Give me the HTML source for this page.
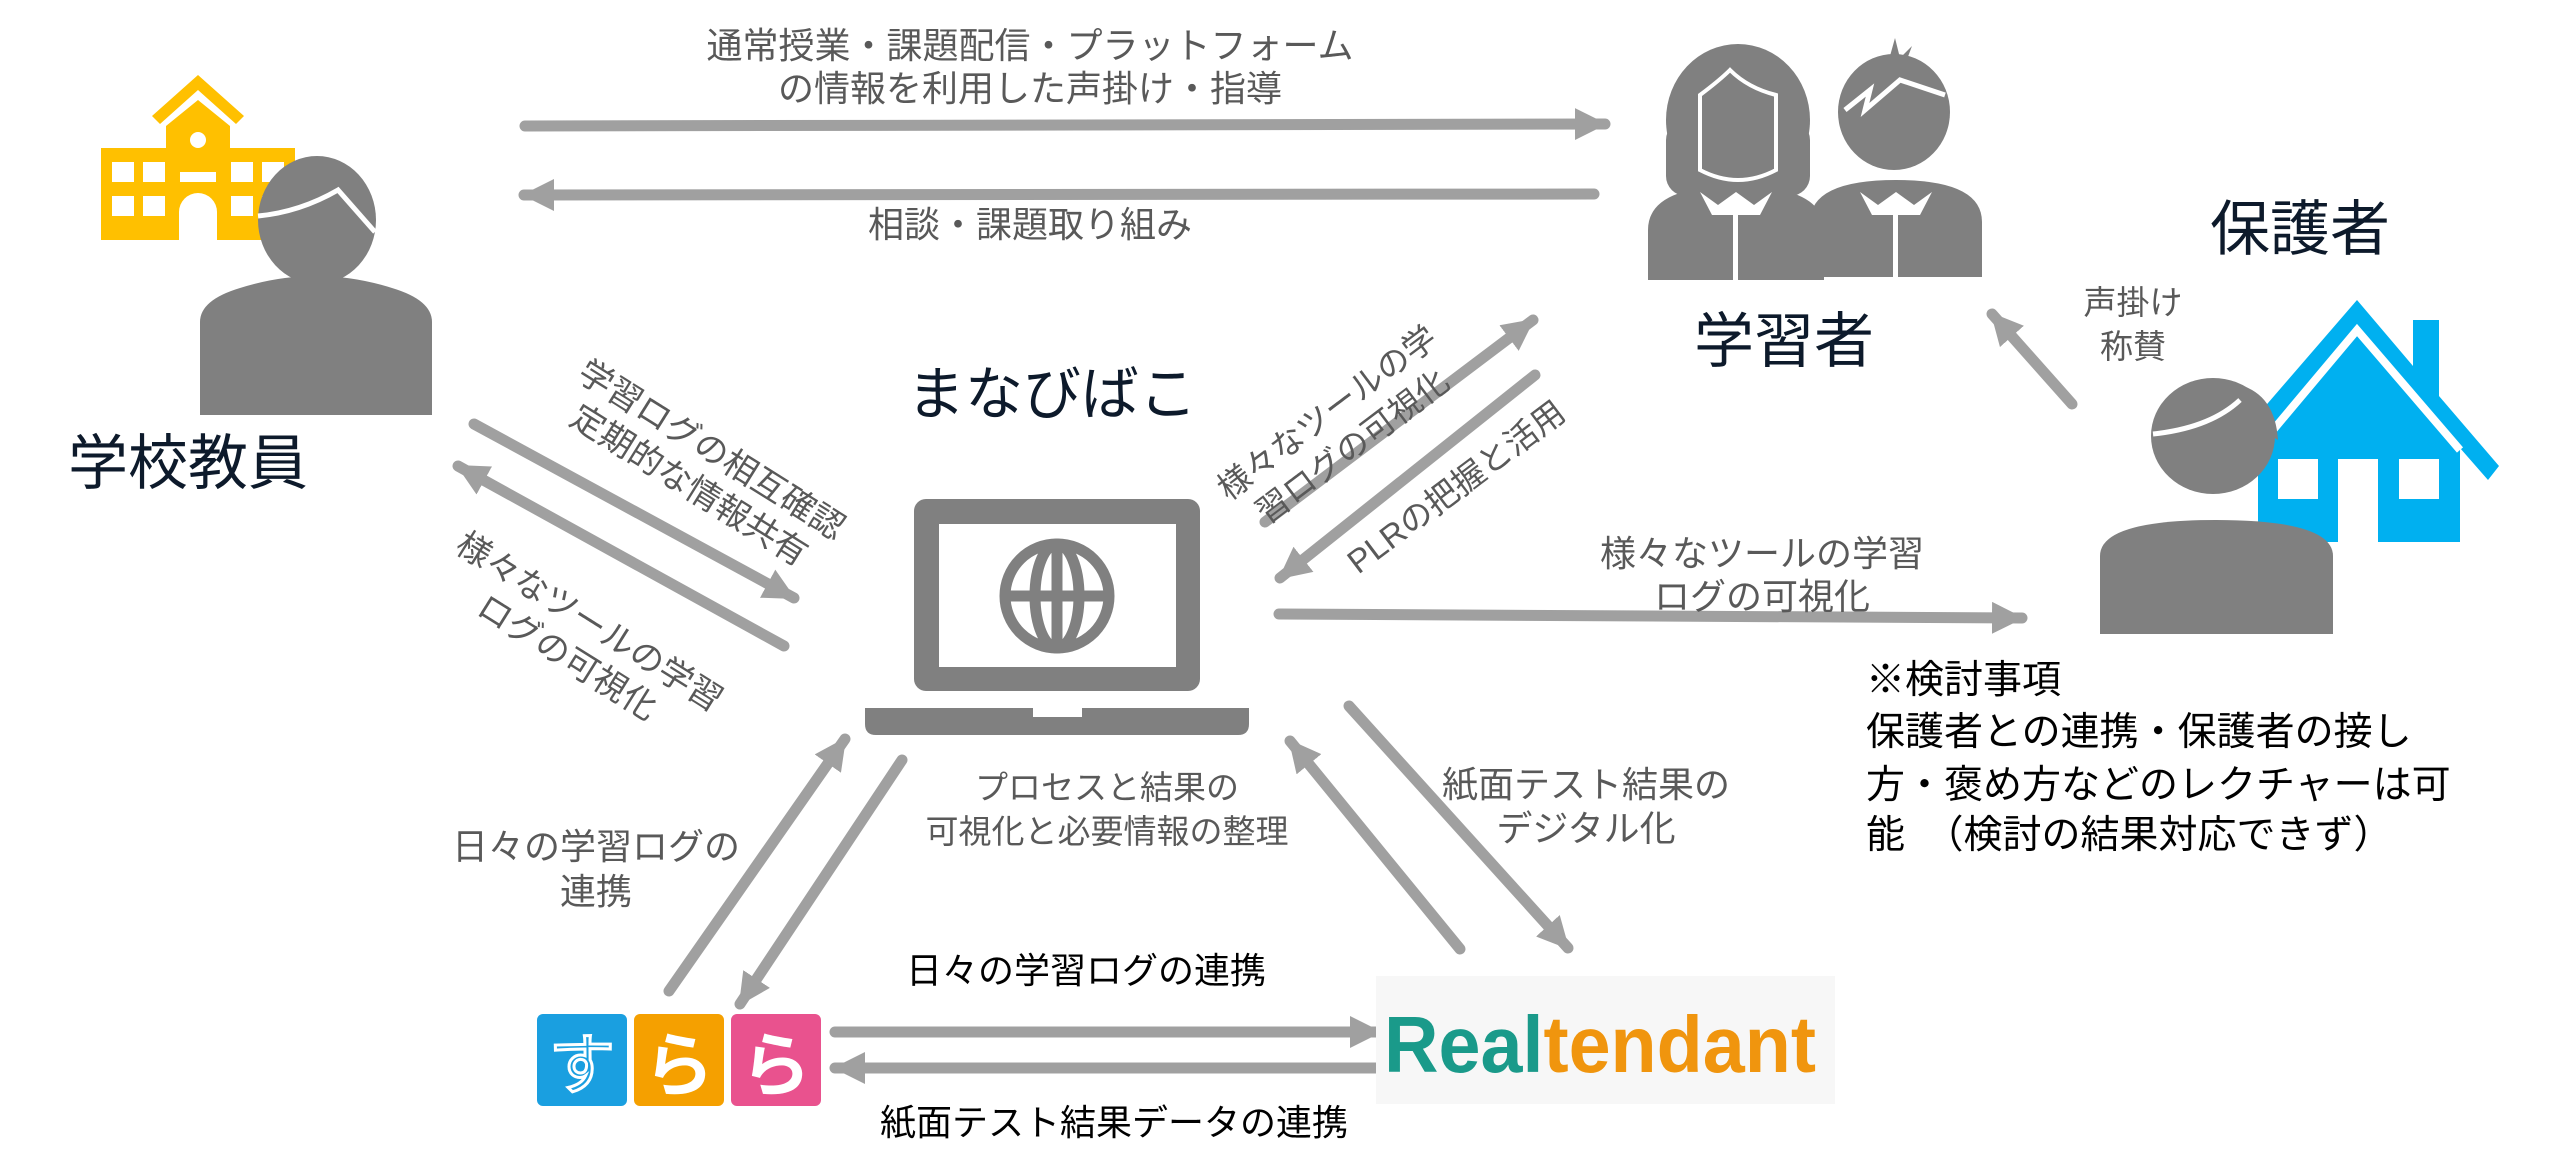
<!DOCTYPE html>
<html><head><meta charset="utf-8"><style>
html,body{margin:0;padding:0;background:#fff;}
svg{display:block;}
text{font-family:"Liberation Sans","Noto Sans CJK JP",sans-serif;}
.g{fill:#595959;font-size:35px;}
.n{fill:#0d1a2b;font-size:60px;}
.k{fill:#000;font-size:36px;}
</style></head><body>
<svg width="2560" height="1161" viewBox="0 0 2560 1161" xmlns="http://www.w3.org/2000/svg">
<defs>
<marker id="ah" markerUnits="userSpaceOnUse" markerWidth="40" markerHeight="40" refX="30" refY="16" orient="auto">
<path d="M0,0 L32,16 L0,32 z" fill="#a0a0a0"/>
</marker>
</defs>
<g stroke="#a0a0a0" stroke-width="11" stroke-linecap="round" fill="none" marker-end="url(#ah)">
<line x1="525" y1="126" x2="1605" y2="124"/>
<line x1="1594" y1="194" x2="524" y2="195"/>
<line x1="474" y1="424" x2="794" y2="598"/>
<line x1="784" y1="646" x2="458" y2="466"/>
<line x1="1265" y1="522" x2="1533" y2="320"/>
<line x1="1535" y1="375" x2="1280" y2="578"/>
<line x1="1279" y1="614" x2="2022" y2="618"/>
<line x1="2072" y1="404" x2="1992" y2="314"/>
<line x1="669" y1="991" x2="845" y2="739"/>
<line x1="902" y1="760" x2="740" y2="1004"/>
<line x1="1349" y1="706" x2="1568" y2="948"/>
<line x1="1460" y1="949" x2="1290" y2="741"/>
<line x1="835" y1="1032" x2="1380" y2="1032"/>
<line x1="1380" y1="1068" x2="835" y2="1068"/>
</g>
<!-- school -->
<g fill="#ffc000">
<path d="M152,116 L198,75 L244,116 L236,124 L198,90 L160,124 z"/>
<path d="M166,148 L166,126 L198,100 L230,126 L230,148 L295,148 L295,240 L101,240 L101,148 z"/>
</g>
<g fill="#fff">
<circle cx="198" cy="140" r="8"/>
<rect x="112" y="162" width="22" height="20"/><rect x="143" y="162" width="22" height="20"/><rect x="231" y="162" width="22" height="20"/><rect x="262" y="162" width="22" height="20"/>
<rect x="112" y="196" width="22" height="20"/><rect x="143" y="196" width="22" height="20"/><rect x="231" y="196" width="22" height="20"/><rect x="262" y="196" width="22" height="20"/>
<rect x="180" y="172" width="36" height="10"/>
<path d="M179,240 L179,212 A19,19 0 0 1 217,212 L217,240 z"/>
</g>
<!-- teacher -->
<g fill="#808080">
<ellipse cx="317" cy="220" rx="59" ry="64"/>
<path d="M200,415 L200,322 Q200,300 240,288 Q316,264 392,288 Q432,300 432,322 L432,415 z"/>
</g>
<path d="M258,216 Q300,212 338,190 L375,232" stroke="#fff" stroke-width="5" fill="none"/>
<text class="n" x="188" y="484" text-anchor="middle">学校教員</text>
<!-- students -->
<g fill="#808080">
<ellipse cx="1738" cy="120" rx="72" ry="76"/>
<rect x="1666" y="120" width="144" height="76" rx="20"/>
<path d="M1648,280 L1648,230 Q1648,186 1736,186 Q1824,186 1824,230 L1824,280 z"/>
<path d="M1810,277 L1810,222 Q1810,180 1896,180 Q1982,180 1982,222 L1982,277 z"/>
<ellipse cx="1894" cy="112" rx="56" ry="58"/>
<path d="M1890,56 L1895,38 L1900,58 L1912,46 L1906,62 z"/>
</g>
<g fill="#fff">
<path d="M1700,95 Q1720,80 1730,70 Q1748,88 1776,95 L1776,170 Q1738,190 1700,170 z" fill="#808080" stroke="#fff" stroke-width="4"/>
<path d="M1700,192 L1718,205 L1736,192 L1754,205 L1772,192 L1760,215 L1712,215 z"/>
<rect x="1733" y="195" width="5" height="85"/>
<path d="M1860,192 L1878,205 L1896,192 L1914,205 L1932,192 L1920,215 L1872,215 z"/>
<rect x="1893" y="195" width="5" height="82"/>
</g>
<path d="M1845,110 L1870,90 L1865,110 L1900,80 L1945,95" stroke="#fff" stroke-width="5" fill="none"/>
<text class="n" x="1784" y="362" text-anchor="middle">学習者</text>
<text class="n" x="2300" y="250" text-anchor="middle">保護者</text>
<text class="g" x="2133" y="314" text-anchor="middle" style="font-size:33px">声掛け</text>
<text class="g" x="2133" y="358" text-anchor="middle" style="font-size:33px">称賛</text>
<!-- house -->
<g fill="#00b0f0">
<path d="M2249,425 L2357,300 L2413,366 L2413,320 L2439,320 L2439,396 L2499,466 L2488,480 L2460,448 L2460,542 L2258,542 L2258,440 L2249,450 z"/>
</g>
<path d="M2258,448 L2357,330 L2460,450" stroke="#fff" stroke-width="8" fill="none"/>
<g fill="#fff">
<rect x="2278" y="459" width="40" height="40"/><rect x="2338" y="459" width="40" height="84"/><rect x="2399" y="459" width="40" height="40"/>
</g>
<g fill="#808080">
<ellipse cx="2213" cy="436" rx="62" ry="58"/>
<path d="M2240,385 Q2275,395 2278,440 L2262,430 Q2258,405 2240,395 z"/>
<path d="M2100,634 L2100,556 Q2100,520 2216,520 Q2333,520 2333,556 L2333,634 z"/>
</g>
<path d="M2153,434 Q2210,428 2240,400" stroke="#fff" stroke-width="5" fill="none"/>
<!-- laptop -->
<rect x="914" y="499" width="286" height="192" rx="12" fill="#808080"/>
<rect x="939" y="524" width="237" height="143" fill="#fff"/>
<path d="M865,708 L1249,708 L1249,724 Q1249,735 1238,735 L876,735 Q865,735 865,724 z" fill="#808080"/>
<rect x="1033" y="708" width="49" height="9" fill="#fff"/>
<g stroke="#808080" stroke-width="11" fill="none">
<circle cx="1057" cy="596" r="52"/>
<ellipse cx="1057" cy="596" rx="22" ry="52"/>
<line x1="1057" y1="544" x2="1057" y2="648"/>
<line x1="1005" y1="596" x2="1109" y2="596"/>
</g>
<text class="n" x="1052" y="414" text-anchor="middle" style="font-size:58px">まなびばこ</text>
<!-- labels -->
<text class="g" x="1030" y="58" text-anchor="middle" style="font-size:36px">通常授業・課題配信・プラットフォーム</text>
<text class="g" x="1030" y="101" text-anchor="middle" style="font-size:36px">の情報を利用した声掛け・指導</text>
<text class="g" x="1030" y="237" text-anchor="middle" style="font-size:36px">相談・課題取り組み</text>
<g transform="translate(700,468) rotate(32)">
<text class="g" x="0" y="-10" text-anchor="middle" style="font-size:34px">学習ログの相互確認</text>
<text class="g" x="0" y="32" text-anchor="middle" style="font-size:34px">定期的な情報共有</text>
</g>
<g transform="translate(578,640) rotate(32)">
<text class="g" x="0" y="-10" text-anchor="middle" style="font-size:34px">様々なツールの学習</text>
<text class="g" x="0" y="32" text-anchor="middle" style="font-size:34px">ログの可視化</text>
</g>
<g transform="translate(1340,430) rotate(-37)">
<text class="g" x="0" y="-10" text-anchor="middle" style="font-size:33px">様々なツールの学</text>
<text class="g" x="0" y="32" text-anchor="middle" style="font-size:33px">習ログの可視化</text>
</g>
<text class="g" transform="translate(1463,496) rotate(-37)" x="0" y="0" text-anchor="middle" style="font-size:33px">PLRの把握と活用</text>
<text class="g" x="1762" y="566" text-anchor="middle" style="font-size:36px">様々なツールの学習</text>
<text class="g" x="1762" y="609" text-anchor="middle" style="font-size:36px">ログの可視化</text>
<text class="g" x="1107" y="799" text-anchor="middle" style="font-size:33px">プロセスと結果の</text>
<text class="g" x="1107" y="843" text-anchor="middle" style="font-size:33px">可視化と必要情報の整理</text>
<text class="g" x="596" y="859" text-anchor="middle" style="font-size:36px">日々の学習ログの</text>
<text class="g" x="596" y="904" text-anchor="middle" style="font-size:36px">連携</text>
<text class="g" x="1586" y="797" text-anchor="middle" style="font-size:36px">紙面テスト結果の</text>
<text class="g" x="1586" y="841" text-anchor="middle" style="font-size:36px">デジタル化</text>
<text class="k" x="1086" y="983" text-anchor="middle">日々の学習ログの連携</text>
<text class="k" x="1114" y="1135" text-anchor="middle">紙面テスト結果データの連携</text>
<text x="1866" y="693" class="k" style="font-size:39px">※検討事項</text>
<text x="1866" y="745" class="k" style="font-size:39px">保護者との連携・保護者の接し</text>
<text x="1866" y="798" class="k" style="font-size:39px">方・褒め方などのレクチャーは可</text>
<text x="1866" y="848" class="k" style="font-size:39px">能　（検討の結果対応できず）</text>
<!-- surara -->
<rect x="537" y="1014" width="90" height="92" rx="6" fill="#1a9fe0"/>
<rect x="634" y="1014" width="90" height="92" rx="6" fill="#f5a000"/>
<rect x="731" y="1014" width="90" height="92" rx="6" fill="#e9528e"/>
<text x="582" y="1088" text-anchor="middle" style="font-size:66px" fill="#1a9fe0" stroke="#fff" stroke-width="3">す</text>
<text x="679" y="1090" text-anchor="middle" style="font-size:70px;font-weight:bold" fill="#fff">ら</text>
<text x="776" y="1090" text-anchor="middle" style="font-size:70px;font-weight:bold" fill="#fff">ら</text>
<!-- realtendant -->
<rect x="1376" y="976" width="459" height="128" fill="#f7f7f7"/>
<text x="1384" y="1072" style="font-size:80px;font-weight:bold" textLength="432" lengthAdjust="spacingAndGlyphs"><tspan fill="#1a9a8a">Real</tspan><tspan fill="#f0950e">tendant</tspan></text>
</svg>
</body></html>
